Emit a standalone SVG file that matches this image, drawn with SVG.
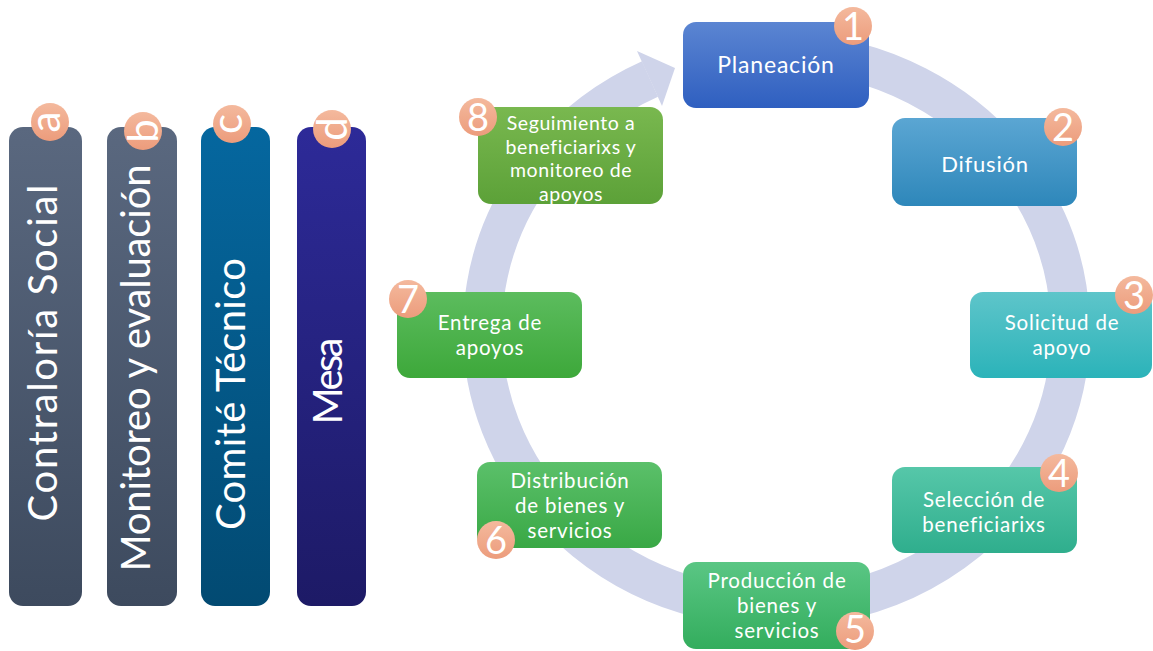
<svg xmlns="http://www.w3.org/2000/svg" width="1153" height="651" viewBox="0 0 1153 651">
<style>
.bar-t{font-family:Lato,"Liberation Sans",sans-serif;font-size:40px;fill:#fff;text-anchor:middle}
.lbl{font-family:Lato,"Liberation Sans",sans-serif;font-size:20.5px;letter-spacing:0.8px;fill:#fff;text-anchor:middle}
.lbl8{font-family:Lato,"Liberation Sans",sans-serif;font-size:19.5px;letter-spacing:0.6px;fill:#fff;text-anchor:middle}
.num{font-family:Lato,"Liberation Sans",sans-serif;font-size:38px;fill:#fff;text-anchor:middle}
.let{font-family:Lato,"Liberation Sans",sans-serif;font-size:42px;fill:#fff;text-anchor:middle}
.badge{fill:url(#gBadge)}
</style>
<defs>
<linearGradient id="gBadge" x1="0" y1="0" x2="0" y2="1"><stop offset="0" stop-color="#f4b99d"/><stop offset="1" stop-color="#ec9c7c"/></linearGradient>
<linearGradient id="gGray" x1="0" y1="0" x2="0" y2="1"><stop offset="0" stop-color="#5a687f"/><stop offset="1" stop-color="#3d4a5e"/></linearGradient>
<linearGradient id="gTeal" x1="0" y1="0" x2="0" y2="1"><stop offset="0" stop-color="#05679f"/><stop offset="1" stop-color="#024a72"/></linearGradient>
<linearGradient id="gNavy" x1="0" y1="0" x2="0" y2="1"><stop offset="0" stop-color="#2d2a98"/><stop offset="1" stop-color="#1d1a66"/></linearGradient>
<linearGradient id="g1" x1="0" y1="0" x2="0" y2="1"><stop offset="0" stop-color="#5b85d2"/><stop offset="1" stop-color="#2f5fc0"/></linearGradient>
<linearGradient id="g2" x1="0" y1="0" x2="0" y2="1"><stop offset="0" stop-color="#5ba6d3"/><stop offset="1" stop-color="#2e87ba"/></linearGradient>
<linearGradient id="g3" x1="0" y1="0" x2="0" y2="1"><stop offset="0" stop-color="#5ec5ca"/><stop offset="1" stop-color="#2bb3b9"/></linearGradient>
<linearGradient id="g4" x1="0" y1="0" x2="0" y2="1"><stop offset="0" stop-color="#56c7a9"/><stop offset="1" stop-color="#2fae8d"/></linearGradient>
<linearGradient id="g5" x1="0" y1="0" x2="0" y2="1"><stop offset="0" stop-color="#5ac684"/><stop offset="1" stop-color="#33ad5d"/></linearGradient>
<linearGradient id="g6" x1="0" y1="0" x2="0" y2="1"><stop offset="0" stop-color="#5bc06a"/><stop offset="1" stop-color="#39a845"/></linearGradient>
<linearGradient id="g7" x1="0" y1="0" x2="0" y2="1"><stop offset="0" stop-color="#5cbc5e"/><stop offset="1" stop-color="#3da83a"/></linearGradient>
<linearGradient id="g8" x1="0" y1="0" x2="0" y2="1"><stop offset="0" stop-color="#79b84f"/><stop offset="1" stop-color="#5ca138"/></linearGradient>
</defs>
<rect width="1153" height="651" fill="#fff"/>

<g id="bar-a">
<rect x="9" y="127" width="73" height="479" rx="14" fill="url(#gGray)"/>
<text class="bar-t" transform="translate(57,353) rotate(-90)" textLength="337" lengthAdjust="spacing">Contraloría Social</text>
<circle class="badge" cx="50" cy="122" r="19"/>
<text class="let" transform="translate(60,122) rotate(-90)">a</text>
</g>
<g id="bar-b">
<rect x="107" y="127" width="70" height="479" rx="14" fill="url(#gGray)"/>
<text class="bar-t" transform="translate(150,368) rotate(-90)" textLength="407" lengthAdjust="spacing">Monitoreo y evaluación</text>
<circle class="badge" cx="143" cy="131" r="19"/>
<text class="let" transform="translate(158,131) rotate(-90)">b</text>
</g>
<g id="bar-c">
<rect x="201" y="127" width="69" height="479" rx="14" fill="url(#gTeal)"/>
<text class="bar-t" transform="translate(245,394) rotate(-90)" textLength="272" lengthAdjust="spacing">Comité Técnico</text>
<circle class="badge" cx="232" cy="124" r="19"/>
<text class="let" transform="translate(242,124) rotate(-90)">c</text>
</g>
<g id="bar-d">
<rect x="297" y="127" width="69" height="479" rx="14" fill="url(#gNavy)"/>
<text class="bar-t" transform="translate(342,381) rotate(-90)" textLength="87" lengthAdjust="spacing">Mesa</text>
<circle class="badge" cx="332" cy="129" r="19"/>
<text class="let" transform="translate(347,129) rotate(-90)">d</text>
</g>

<g id="connectors">
<path d="M 790 52.3 A 294 278 0 1 1 650 79" fill="none" stroke="#cfd4ea" stroke-width="39"/>
<polygon points="637,51 675,68 662,106" fill="#cfd4ea"/>
</g>

<g id="n1">
<rect x="683" y="22" width="186" height="86" rx="13" fill="url(#g1)"/>
<text class="lbl" x="776" y="73" style="font-size:23px">Planeación</text>
<circle class="badge" cx="853" cy="26" r="19"/>
<text class="num" x="853" y="40">1</text>
</g>
<g id="n2">
<rect x="892" y="118" width="185" height="88" rx="13" fill="url(#g2)"/>
<text class="lbl" x="985" y="172" style="font-size:22px">Difusión</text>
<circle class="badge" cx="1063" cy="127" r="19"/>
<text class="num" x="1063" y="141">2</text>
</g>
<g id="n3">
<rect x="970" y="292" width="182" height="86" rx="13" fill="url(#g3)"/>
<text class="lbl" x="1062" y="330">Solicitud de</text>
<text class="lbl" x="1062" y="355">apoyo</text>
<circle class="badge" cx="1134" cy="295" r="19"/>
<text class="num" x="1134" y="309">3</text>
</g>
<g id="n4">
<rect x="892" y="467" width="185" height="86" rx="13" fill="url(#g4)"/>
<text class="lbl" x="984" y="507">Selección de</text>
<text class="lbl" x="984" y="532">beneficiarixs</text>
<circle class="badge" cx="1059" cy="473" r="19"/>
<text class="num" x="1059" y="487">4</text>
</g>
<g id="n5">
<rect x="683" y="562" width="187" height="87" rx="13" fill="url(#g5)"/>
<text class="lbl" x="777" y="588">Producción de</text>
<text class="lbl" x="777" y="613">bienes y</text>
<text class="lbl" x="777" y="638">servicios</text>
<circle class="badge" cx="855" cy="631" r="19"/>
<text class="num" x="855" y="643">5</text>
</g>
<g id="n6">
<rect x="477" y="462" width="185" height="86" rx="13" fill="url(#g6)"/>
<text class="lbl" x="570" y="488">Distribución</text>
<text class="lbl" x="570" y="513">de bienes y</text>
<text class="lbl" x="570" y="538">servicios</text>
<circle class="badge" cx="496" cy="540" r="19"/>
<text class="num" x="496" y="554">6</text>
</g>
<g id="n7">
<rect x="397" y="292" width="185" height="86" rx="13" fill="url(#g7)"/>
<text class="lbl" x="490" y="330">Entrega de</text>
<text class="lbl" x="490" y="355">apoyos</text>
<circle class="badge" cx="408" cy="299" r="19"/>
<text class="num" x="408" y="313">7</text>
</g>
<g id="n8">
<rect x="478" y="107" width="185" height="97" rx="13" fill="url(#g8)"/>
<text class="lbl8" x="571" y="130">Seguimiento a</text>
<text class="lbl8" x="571" y="153.5">beneficiarixs y</text>
<text class="lbl8" x="571" y="177">monitoreo de</text>
<text class="lbl8" x="571" y="200.5">apoyos</text>
<circle class="badge" cx="478" cy="117" r="19"/>
<text class="num" x="478" y="131">8</text>
</g>
</svg>
